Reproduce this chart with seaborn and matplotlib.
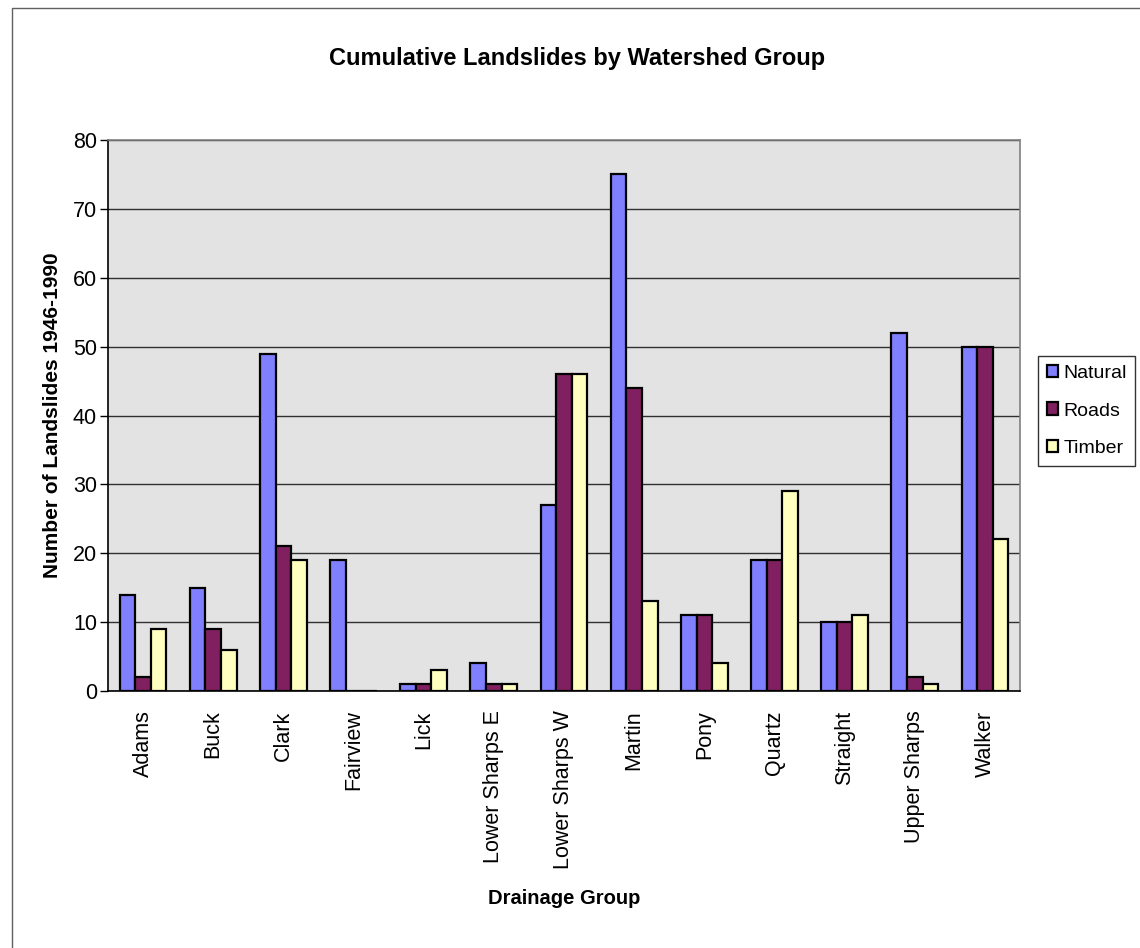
import numpy as np
import pandas as pd
import matplotlib
matplotlib.use("Agg")
import matplotlib.pyplot as plt
from matplotlib.patches import Rectangle
import seaborn as sns

# ── Data ──────────────────────────────────────────────────────────────────────
groups = ["Adams", "Buck", "Clark", "Fairview", "Lick", "Lower Sharps E",
          "Lower Sharps W", "Martin", "Pony", "Quartz", "Straight",
          "Upper Sharps", "Walker"]
natural = [14, 15, 49, 19, 1, 4, 27, 75, 11, 19, 10, 52, 50]
roads   = [2, 9, 21, 0, 1, 1, 46, 44, 11, 19, 10, 2, 50]
timber  = [9, 6, 19, 0, 3, 1, 46, 13, 4, 29, 11, 1, 22]
series  = ["Natural", "Roads", "Timber"]
colors  = ["#8080FF", "#802060", "#FFFFC0"]

df = pd.DataFrame({"Group": groups, "Natural": natural,
                   "Roads": roads, "Timber": timber})
long_df = df.melt(id_vars="Group", var_name="Cause", value_name="Count")

# ── Figure ────────────────────────────────────────────────────────────────────
sns.set_style("white")
plt.rcParams["font.family"] = ["Liberation Sans", "DejaVu Sans"]
plt.rcParams["text.color"] = "black"
plt.rcParams["axes.labelcolor"] = "black"
plt.rcParams["xtick.color"] = "black"
plt.rcParams["ytick.color"] = "black"

fig = plt.figure(figsize=(11.4, 9.48), dpi=100)
ax = fig.add_axes([108 / 1140, 1 - 691 / 948, 912 / 1140, 551 / 948])
ax.set_facecolor("#E3E3E3")

sns.barplot(data=long_df, x="Group", y="Count", hue="Cause",
            hue_order=series, palette=colors, width=0.667, saturation=1,
            edgecolor="black", linewidth=1.6, ax=ax)

ax.set_ylim(0, 80)
ax.set_xlim(-0.5, len(groups) - 0.5)
ax.set_yticks(np.arange(0, 81, 10))
ax.yaxis.grid(True, color="#303030", linewidth=1)
ax.set_axisbelow(True)

# ticks between categories like a spreadsheet chart
ax.set_xticks(np.arange(len(groups)))
ax.set_xticklabels(groups, rotation=90, fontsize=15.5)
ax.set_xticks(np.arange(-0.5, len(groups)), minor=True)
ax.tick_params(axis="x", which="major", length=0, pad=14)
ax.tick_params(axis="x", which="minor", length=7, width=1, direction="out",
               color="black")
ax.tick_params(axis="y", length=6, width=1, direction="out", color="black",
               labelsize=15.5, left=True, pad=2)

for side in ["left", "bottom"]:
    ax.spines[side].set_color("black")
    ax.spines[side].set_linewidth(1.2)
for side in ["top", "right"]:
    ax.spines[side].set_color("#808080")
    ax.spines[side].set_linewidth(1.2)

ax.set_xlabel("Drainage Group", fontsize=14.5, fontweight="bold", labelpad=14)
ax.set_ylabel("Number of Landslides 1946-1990", fontsize=15,
              fontweight="bold", labelpad=8)
fig.text(577 / 1140, 1 - 58 / 948, "Cumulative Landslides by Watershed Group",
         ha="center", va="center", fontsize=17, fontweight="bold")

ax.legend(loc="center left", bbox_to_anchor=(1038 / 1140, 1 - 411 / 948),
          bbox_transform=fig.transFigure, frameon=True, fancybox=False,
          edgecolor="black", fontsize=14, handlelength=0.6,
          handleheight=0.6, handletextpad=0.25, labelspacing=1.05,
          borderpad=0.45, borderaxespad=0, title=None)
ax.get_legend().get_frame().set_linewidth(1)

# chart border
fig.patches.append(Rectangle((12 / 1140, -0.1), 1.2, 1 - 8 / 948 + 0.1,
                             transform=fig.transFigure, fill=False,
                             edgecolor="#606060", linewidth=1))

plt.savefig("out.png", dpi=100)
plt.close()
